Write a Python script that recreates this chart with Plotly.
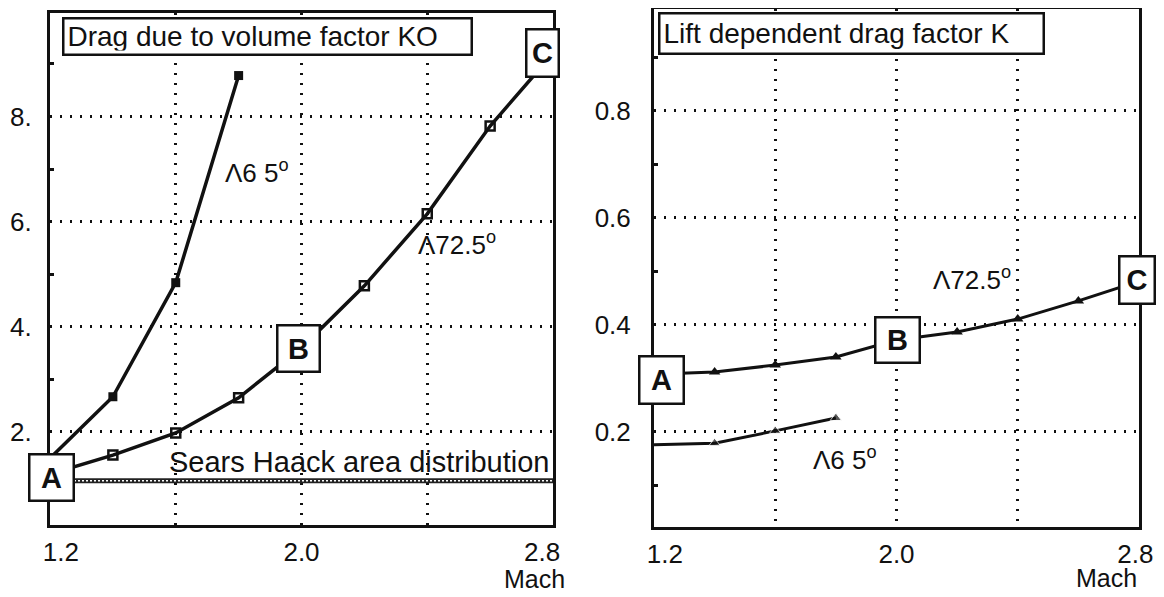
import plotly.graph_objects as go

# ---------------- data ----------------
mach = [1.2, 1.4, 1.6, 1.8, 2.0, 2.2, 2.4, 2.6, 2.8]
mach_65 = [1.2, 1.4, 1.6, 1.8]
# Left panel: drag due to volume factor K0
k0_sweep725 = [1.20, 1.56, 1.98, 2.65, 3.60, 4.78, 6.15, 7.82, 9.20]
k0_sweep65 = [1.50, 2.67, 4.84, 8.78]
sh_mach = [1.2, 2.8]
k0_sears_haack = [1.07, 1.07]
# Right panel: lift dependent drag factor K
k_sweep725 = [0.308, 0.312, 0.325, 0.340, 0.372, 0.387, 0.411, 0.445, 0.482]
k_sweep65 = [0.176, 0.179, 0.202, 0.226]

x_ticks = [1.2, 2.0, 2.8]
x1_ticktext = ["\u00a0\u00a0\u00a01.2", "2.0", "2.8\u00a0\u00a0\u00a0"]
x2_ticktext = ["\u00a0\u00a0\u00a01.2", "2.0", "2.8\u00a0"]
x_minor = [1.6, 2.4]
y1_ticks = [2, 4, 6, 8]
y1_ticktext = ["2.", "4.", "6.", "8."]
y1_minor = [1, 3, 5, 7, 9]
y2_ticks = [0.2, 0.4, 0.6, 0.8]
y2_ticktext = ["0.2", "0.4", "0.6", "0.8"]
y2_minor = [0.1, 0.3, 0.5, 0.7, 0.9]

FONT = "Liberation Sans, Arial, Helvetica, sans-serif"
BLACK = "#111111"
DOTS = "2px,8px"

# page has an 8px body margin; figure sized to fit the window
OFF = 8
W, H = 1164 - OFF, 597 - OFF


def px(xp):
    return min(1.0, max(0.0, (xp - OFF) / W))


def py(yp):
    return min(1.0, max(0.0, 1 - (yp - OFF) / H))


fig = go.Figure()

# ---- left panel traces ----
fig.add_trace(go.Scatter(x=sh_mach, y=k0_sears_haack, mode="lines",
                         line=dict(color="#222222", width=5), xaxis="x", yaxis="y"))
fig.add_trace(go.Scatter(x=sh_mach, y=k0_sears_haack, mode="lines",
                         line=dict(color="white", width=1.5, dash="2px,2px"), xaxis="x", yaxis="y"))
fig.add_trace(go.Scatter(x=mach_65, y=k0_sweep65, mode="lines+markers",
                         line=dict(color=BLACK, width=3.5),
                         marker=dict(symbol="square", size=9, color=BLACK),
                         xaxis="x", yaxis="y"))
fig.add_trace(go.Scatter(x=mach, y=k0_sweep725, mode="lines+markers",
                         line=dict(color=BLACK, width=3.5),
                         marker=dict(symbol="square-open", size=9, color=BLACK, line=dict(width=2.5)),
                         xaxis="x", yaxis="y"))

# ---- right panel traces ----
fig.add_trace(go.Scatter(x=mach_65, y=k_sweep65, mode="lines+markers",
                         line=dict(color=BLACK, width=3),
                         marker=dict(symbol="triangle-up", size=[0] + [10] * (len(mach_65) - 1), color=BLACK),
                         xaxis="x2", yaxis="y2"))
fig.add_trace(go.Scatter(x=mach, y=k_sweep725, mode="lines+markers",
                         line=dict(color=BLACK, width=3),
                         marker=dict(symbol="triangle-up", size=10, color=BLACK),
                         xaxis="x2", yaxis="y2"))

common = dict(showgrid=True, gridcolor=BLACK, gridwidth=2.5, griddash=DOTS,
              showline=True, linecolor=BLACK, linewidth=3, mirror=True,
              zeroline=False, tickfont=dict(family=FONT, size=26, color=BLACK),
              ticks="", fixedrange=True, automargin=False, ticklabeloverflow="allow")


def xminor():
    return dict(tickvals=x_minor, showgrid=True, gridcolor=BLACK, gridwidth=2.5,
                griddash=DOTS, ticks="")


def yminor(vals):
    return dict(tickvals=vals, ticks="inside", ticklen=4, tickwidth=2.5,
                tickcolor=BLACK, showgrid=False)


fig.update_layout(
    width=W, height=H,
    margin=dict(l=0, r=0, t=0, b=0, autoexpand=False),
    paper_bgcolor="white", plot_bgcolor="white",
    showlegend=False,
    font=dict(family=FONT, color=BLACK),
    xaxis=dict(domain=[px(50), px(553)], range=[1.2, 2.8], anchor="y",
               tickvals=x_ticks, ticktext=x1_ticktext, ticklabelstandoff=2,
               minor=xminor(), **common),
    yaxis=dict(domain=[py(525), py(13)], range=[0.23, 9.97], anchor="x",
               tickvals=y1_ticks, ticktext=y1_ticktext, ticklabelstandoff=10,
               minor=yminor(y1_minor), **common),
    xaxis2=dict(domain=[px(654), px(1139)], range=[1.2, 2.8], anchor="y2",
                tickvals=x_ticks, ticktext=x2_ticktext, ticklabelstandoff=2,
                minor=xminor(), **common),
    yaxis2=dict(domain=[py(527), py(9)], range=[0.0224, 0.9905], anchor="x2",
                tickvals=y2_ticks, ticktext=y2_ticktext, ticklabelstandoff=15,
                minor=yminor(y2_minor), **common),
)


def boxed(text, x, y, xref, yref, w, h, size=29):
    fig.add_annotation(text=f"<b>{text}</b>", x=x, y=y, xref=xref, yref=yref,
                       xanchor="center", yanchor="middle",
                       showarrow=False, bgcolor="white", bordercolor=BLACK, borderwidth=2.5,
                       borderpad=0, width=w - 5, height=h - 5,
                       font=dict(family=FONT, size=size, color=BLACK))


# point labels A/B/C
boxed("A", 1.205, 1.135, "x", "y", 47, 49)
boxed("B", 1.99, 3.59, "x", "y", 45, 49)
boxed("C", 2.766, 9.21, "x", "y", 35, 50)
boxed("A", 1.225, 0.297, "x2", "y2", 47, 50)
boxed("B", 2.003, 0.372, "x2", "y2", 47, 48)
boxed("C", 2.794, 0.484, "x2", "y2", 38, 50)

# panel titles
fig.add_annotation(text="Drag due to volume factor KO", x=px(267.5), y=py(36),
                   xref="paper", yref="paper", xanchor="center", yanchor="middle",
                   showarrow=False, align="left",
                   bgcolor="white", bordercolor=BLACK, borderwidth=2.5, borderpad=3,
                   width=400, height=28, font=dict(family=FONT, size=28, color=BLACK))
fig.add_annotation(text="Lift dependent drag factor K", x=px(851.5), y=py(34),
                   xref="paper", yref="paper", xanchor="center", yanchor="middle",
                   showarrow=False, align="left",
                   bgcolor="white", bordercolor=BLACK, borderwidth=2.5, borderpad=3,
                   width=376, height=32, font=dict(family=FONT, size=28, color=BLACK))

# curve labels
lab_font = dict(family=FONT, size=26, color=BLACK)
fig.add_annotation(text="Λ6 5<sup>o</sup>", x=1.86, y=6.96, xref="x", yref="y",
                   xanchor="center", yanchor="middle", showarrow=False, font=lab_font)
fig.add_annotation(text="Λ72.5<sup>o</sup>", x=2.494, y=5.58, xref="x", yref="y",
                   xanchor="center", yanchor="middle", showarrow=False, font=lab_font)
fig.add_annotation(text="Sears Haack area distribution", x=2.183, y=1.43, xref="x", yref="y",
                   xanchor="center", yanchor="middle", showarrow=False,
                   font=dict(family=FONT, size=29, color=BLACK))
fig.add_annotation(text="Λ72.5<sup>o</sup>", x=2.249, y=0.486, xref="x2", yref="y2",
                   xanchor="center", yanchor="middle", showarrow=False, font=lab_font)
fig.add_annotation(text="Λ6 5<sup>o</sup>", x=1.83, y=0.151, xref="x2", yref="y2",
                   xanchor="center", yanchor="middle", showarrow=False, font=lab_font)

# axis names
fig.add_annotation(text="Mach", x=px(534), y=py(579), xref="paper", yref="paper",
                   xanchor="center", yanchor="middle", showarrow=False,
                   font=dict(family=FONT, size=25, color=BLACK))
fig.add_annotation(text="Mach", x=px(1106), y=py(578), xref="paper", yref="paper",
                   xanchor="center", yanchor="middle", showarrow=False,
                   font=dict(family=FONT, size=25, color=BLACK))

fig.write_html("out.html")
